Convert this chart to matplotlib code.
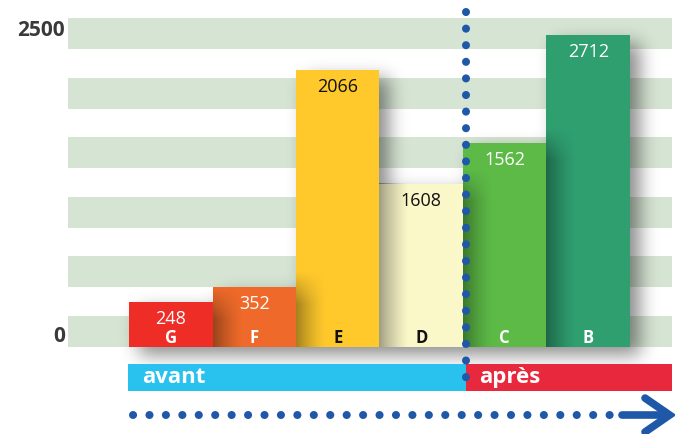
import numpy as np
import matplotlib
matplotlib.use("Agg")
import matplotlib.pyplot as plt
from matplotlib.patches import Rectangle

plt.rcParams['font.family'] = ['Open Sans', 'DejaVu Sans']

# ---- data ----
categories = ['G', 'F', 'E', 'D', 'C', 'B']
values = [248, 352, 2066, 1608, 1562, 2712]          # printed values
bar_heights = [358, 478, 2205, 1298, 1624, 2484]      # drawn heights, read on the 0-2500 scale
bar_colors = ['#EE2D27', '#EF6A2A', '#FFC92C', '#FAF7C9', '#5DBA47', '#2F9F70']
text_colors = ['white', 'white', '#111111', '#111111', 'white', 'white']
ytick_labels = ['0', '2500']
ytick_pos = [80, 2523]
phase_labels = ['avant', 'après']
phase_colors = ['#29C1EE', '#E8293D']

# ---- layout (figure = axes, data units) ----
W, H = 675, 434
fig = plt.figure(figsize=(W / 100, H / 100), dpi=100)
ax = fig.add_axes([0, 0, 1, 1])
x0, x1 = -2.045, 6.039
y0, y1 = -692, 2762
ax.set_xlim(x0, x1)
ax.set_ylim(y0, y1)
ax.axis('off')
xr = 6.003

# background bands
band_h, band_p = 247, 474
for k in range(6):
    ax.add_patch(Rectangle((-1.23, k * band_p), xr + 1.23, band_h,
                           facecolor='#D6E4D3', edgecolor='none', zorder=1))

# soft drop shadow of the bars
xs = np.linspace(x0, x1, W)
ys = np.linspace(y1, y0, H)
XX, YY = np.meshgrid(xs, ys)
mask = np.zeros((H, W))
for i, h in enumerate(bar_heights):
    mask[(XX >= i - 0.5) & (XX <= i + 0.5) & (YY >= 0) & (YY <= h)] = 1.0
sig = 9
kx = np.arange(-3 * sig, 3 * sig + 1)
kern = np.exp(-kx ** 2 / (2 * sig ** 2)); kern /= kern.sum()
blur = np.apply_along_axis(lambda r: np.convolve(r, kern, mode='same'), 1, mask)
blur = np.apply_along_axis(lambda c: np.convolve(c, kern, mode='same'), 0, blur)
blur = np.roll(np.roll(blur, 10, axis=1), 8, axis=0)
shadow = np.zeros((H, W, 4))
shadow[..., 3] = blur * 0.45
ax.imshow(shadow, extent=(x0, x1, y0, y1), aspect='auto', zorder=2, interpolation='bilinear')

# bars
ax.bar(range(len(categories)), bar_heights, width=1.0, color=bar_colors,
       edgecolor='none', zorder=3)

# shading on left side of bars (shadow cast by the neighbour), fading at the top
nx, ny = 64, 128
gx = np.linspace(1.0, 0.0, nx) ** 1.4
for i in range(1, len(categories)):
    top = min(bar_heights[i], bar_heights[i - 1] + 120)
    fade_len = min(260.0, top)
    yy = np.linspace(top, 0, ny)
    gy = np.clip((top - yy) / fade_len, 0, 1) if bar_heights[i] > bar_heights[i - 1] else np.ones(ny)
    grad = np.zeros((ny, nx, 4))
    grad[..., 3] = 0.36 * gy[:, None] * gx[None, :]
    ax.imshow(grad, extent=(i - 0.5, i - 0.5 + 0.36, 0, top), aspect='auto',
              zorder=4, interpolation='bilinear')
ax.set_xlim(x0, x1)
ax.set_ylim(y0, y1)

# labels on bars
for i, (c, v, h) in enumerate(zip(categories, values, bar_heights)):
    ax.text(i, h - 138, str(v), ha='center', va='center', fontsize=13,
            color=text_colors[i], zorder=6)
    ax.text(i, 72, c, ha='center', va='center', fontsize=12, fontweight='bold',
            color=text_colors[i], zorder=6)

# y labels
for p, t in zip(ytick_pos, ytick_labels):
    ax.text(-1.27, p, t, ha='right', va='center', fontsize=15, fontweight='bold',
            color='#3A3A3A')

# avant / après strips
split = 3.54
ax.add_patch(Rectangle((-0.512, -350), split + 0.512, 215, facecolor=phase_colors[0],
                       edgecolor='none', zorder=3))
ax.add_patch(Rectangle((split, -350), xr - split, 215, facecolor=phase_colors[1],
                       edgecolor='none', zorder=3))
ax.text(-0.34, -242, phase_labels[0], ha='left', va='center', fontsize=16,
        fontweight='bold', color='white', zorder=6)
ax.text(3.69, -242, phase_labels[1], ha='left', va='center', fontsize=16,
        fontweight='bold', color='white', zorder=6)

dot_color = '#1F58A8'
# vertical dotted separator
ax.plot([split, split], [2667, -342], color=dot_color, lw=5.8,
        linestyle=(0, (0.01, 2.05)), dash_capstyle='round', zorder=7)
# bottom dotted arrow
ax.plot([-0.452, 5.30], [-541, -541], color=dot_color, lw=5.8,
        linestyle=(0, (0.01, 2.03)), dash_capstyle='round', zorder=7)
ax.plot([5.40, 5.96], [-541, -541], color=dot_color, lw=5.5,
        solid_capstyle='round', zorder=7)
ax.plot([5.68, 5.975, 5.68], [-541 + 135, -541, -541 - 135], color=dot_color, lw=5.5,
        solid_capstyle='round', solid_joinstyle='miter', zorder=7)

fig.savefig('out.png', dpi=100)
